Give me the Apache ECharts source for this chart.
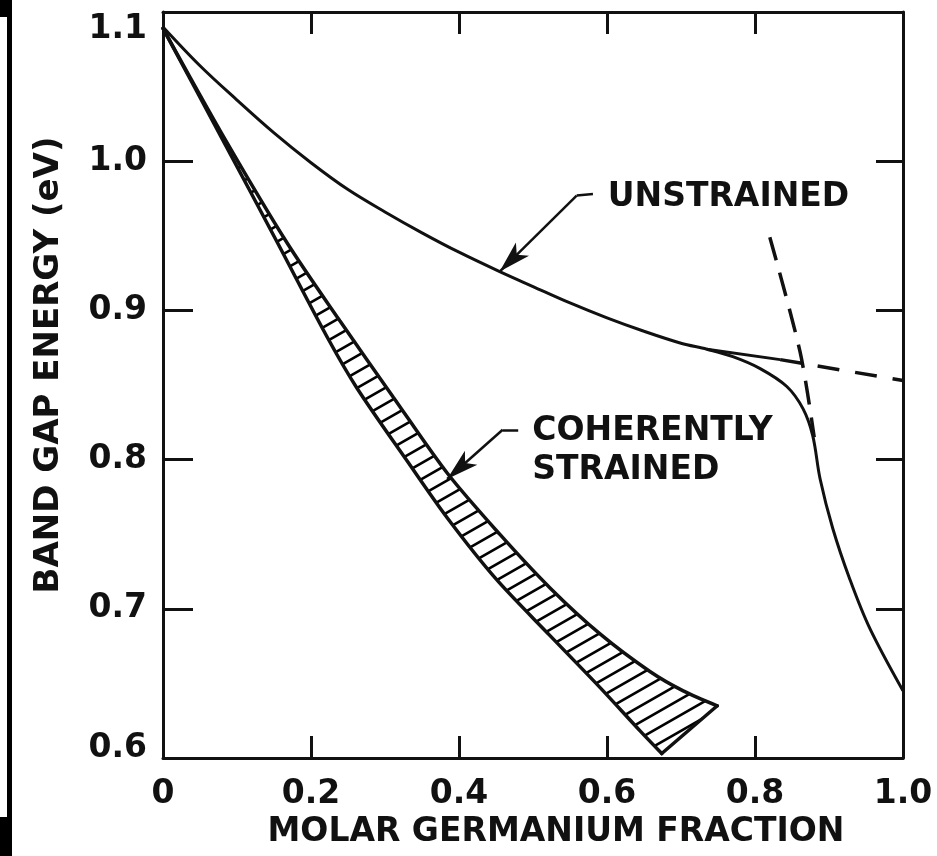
<!DOCTYPE html>
<html lang="en">

<head>
    <meta charset="UTF-8">
    <title>Band gap vs Ge fraction</title>
</head>
<style>
    html, body {
        margin: 0;
        background: #fff;
    }

    #main {
        width: 937px;
        height: 856px;
    }
</style>

<body>
    <div id="main"></div>
    <script src="https://cdn.jsdelivr.net/npm/echarts@6.0.0/dist/echarts.min.js"></script>

    <script>
        const FONT = '"DejaVu Sans", sans-serif'

        // unstrained Si(1-x)Ge(x): Si-like branch, then Ge-like branch
        const unstrained = [[0, 1.090], [0.05, 1.064], [0.1, 1.041], [0.15, 1.019], [0.2, 0.999], [0.25, 0.981],
        [0.3, 0.966], [0.35, 0.952], [0.4, 0.939], [0.455, 0.926], [0.5, 0.916], [0.55, 0.905], [0.6, 0.895],
        [0.65, 0.886], [0.7, 0.878], [0.735, 0.874], [0.770, 0.869], [0.807, 0.861], [0.843, 0.849],
        [0.865, 0.834], [0.878, 0.816], [0.888, 0.787], [0.905, 0.754], [0.928, 0.720], [0.955, 0.687], [1.0, 0.645]]
        const siTail = [[0.735, 0.874], [0.834, 0.867]]
        const siDashed = [[0.834, 0.867], [1.0, 0.853]]
        const geDashed = [[0.820, 0.949], [0.861, 0.872], [0.880, 0.815]]

        // coherently strained band: upper edge and lower edge (the cap joins their last points)
        const bandUpper = [[0, 1.089], [0.08, 1.018], [0.168, 0.945], [0.239, 0.893], [0.311, 0.842], [0.384, 0.791],
        [0.455, 0.750], [0.523, 0.714], [0.591, 0.683], [0.658, 0.658], [0.703, 0.645], [0.749, 0.635]]
        const bandLower = [[0, 1.089], [0.08, 1.015], [0.154, 0.946], [0.222, 0.882], [0.262, 0.848], [0.330, 0.799],
        [0.384, 0.761], [0.450, 0.720], [0.523, 0.682], [0.591, 0.647], [0.645, 0.618], [0.674, 0.603]]
        const bandCap = [bandLower[bandLower.length - 1], bandUpper[bandUpper.length - 1]]

        // arrows: [end, elbow, tip]
        const arrowUnstrained = [[0.581, 0.978], [0.559, 0.977], [0.455, 0.926]]
        const arrowStrained = [[0.480, 0.820], [0.459, 0.820], [0.384, 0.787]]

        const notes = [[0.601, 0.976, 'UNSTRAINED'], [0.499, 0.806, 'COHERENTLY\nSTRAINED']]

        const xTickLabels = ['0', '0.2', '0.4', '0.6', '0.8', '1.0']
        const yTickLabels = ['0.6', '0.7', '0.8', '0.9', '1.0', '1.1']

        // hatch pattern for the strained band
        function hatch() {
            const w = 28, h = 16
            const c = document.createElement('canvas')
            c.width = w
            c.height = h
            const ctx = c.getContext('2d')
            ctx.strokeStyle = '#000'
            ctx.lineWidth = 2.6
            for (let k = 0; k <= 2; k++) {
                ctx.beginPath()
                ctx.moveTo(-w, h * (k + 1))
                ctx.lineTo(2 * w, h * (k - 2))
                ctx.stroke()
            }
            return c
        }
        const hatchFill = { image: hatch(), repeat: 'repeat' }

        function arrowLines(pts) {
            return [
                [{ coord: pts[0], symbol: 'none' }, { coord: pts[1], symbol: 'none' }],
                [{ coord: pts[1], symbol: 'none' }, { coord: pts[2], symbol: 'arrow', symbolSize: [14, 32] }]
            ]
        }

        const black = '#111'
        const labelFont = { color: black, fontFamily: FONT, fontWeight: 'bold', fontSize: 33 }
        const frame = { onZero: false, lineStyle: { color: black, width: 3 } }
        const edge = (name, data) => ({
            name, type: 'line', data, smooth: 0.3, symbol: 'none',
            lineStyle: { color: black, width: 3.5, cap: 'round' }
        })

        let chart = echarts.init(document.getElementById('main'))
        let option = {
            backgroundColor: '#fff',
            animation: false,
            grid: { left: 163, right: 34, top: 12, bottom: 98 },
            graphic: [
                { type: 'rect', left: 0, top: 0, shape: { width: 12, height: 17 }, style: { fill: '#000' } },
                { type: 'rect', left: 7, top: 0, shape: { width: 5, height: 856 }, style: { fill: '#000' } },
                { type: 'rect', left: 0, top: 817, shape: { width: 12, height: 39 }, style: { fill: '#000' } }
            ],
            xAxis: [{
                type: 'value', min: 0, max: 1, interval: 0.2, z: 5,
                name: 'MOLAR GERMANIUM FRACTION', nameLocation: 'middle', nameGap: 30,
                nameTextStyle: Object.assign({}, labelFont, { padding: [0, 0, 0, 46] }),
                axisLine: frame,
                axisTick: { inside: true, length: 22, lineStyle: { color: black, width: 3 } },
                axisLabel: Object.assign({ margin: 20, formatter: v => xTickLabels[Math.round(v / 0.2)] }, labelFont),
                splitLine: { show: false }
            }, {
                type: 'value', position: 'top', min: 0, max: 1, interval: 0.2, z: 5,
                axisLine: frame,
                axisTick: { inside: true, length: 22, lineStyle: { color: black, width: 3 } },
                axisLabel: { show: false },
                splitLine: { show: false }
            }],
            yAxis: [{
                type: 'value', min: 0.6, max: 1.1, interval: 0.1, z: 5,
                name: 'BAND GAP ENERGY (eV)', nameLocation: 'middle', nameGap: 97,
                nameTextStyle: Object.assign({}, labelFont, { fontSize: 34, padding: [0, 0, 0, 40] }),
                axisLine: frame,
                axisTick: { inside: true, length: 30, lineStyle: { color: black, width: 3 } },
                axisLabel: Object.assign({
                    margin: 16,
                    formatter: v => {
                        const i = Math.round((v - 0.6) / 0.1)
                        const s = yTickLabels[i]
                        if (i === 5) return '{lo|' + s + '}'
                        if (i === 0) return '{hi|' + s + '}'
                        return s
                    },
                    rich: {
                        lo: Object.assign({ padding: [34, 0, 0, 0] }, labelFont),
                        hi: Object.assign({ padding: [0, 0, 20, 0] }, labelFont)
                    }
                }, labelFont),
                splitLine: { show: false }
            }, {
                type: 'value', position: 'right', min: 0.6, max: 1.1, interval: 0.1, z: 5,
                axisLine: frame,
                axisTick: { inside: true, length: 27, lineStyle: { color: black, width: 3 } },
                axisLabel: { show: false },
                splitLine: { show: false }
            }],
            series: [
                {
                    name: 'coherently strained', type: 'custom', clip: true, data: [0],
                    renderItem: (params, api) => {
                        const pts = bandUpper.map(p => api.coord(p))
                            .concat(bandLower.slice().reverse().map(p => api.coord(p)))
                        return {
                            type: 'polygon',
                            shape: { points: pts },
                            style: { fill: hatchFill, stroke: null }
                        }
                    }
                },
                edge('band upper', bandUpper),
                edge('band lower', bandLower),
                edge('band cap', bandCap),
                {
                    name: 'unstrained', type: 'line', data: unstrained, smooth: 0.35,
                    symbol: 'none',
                    lineStyle: { color: black, width: 3 },
                    markLine: {
                        silent: true, animation: false, label: { show: false },
                        lineStyle: { color: black, width: 2.5, type: 'solid' },
                        itemStyle: { color: black },
                        data: arrowLines(arrowUnstrained).concat(arrowLines(arrowStrained))
                    }
                },
                {
                    name: 'si tail', type: 'line', data: siTail, symbol: 'none',
                    lineStyle: { color: black, width: 3 }
                },
                {
                    name: 'si extrapolated', type: 'line', data: siDashed, symbol: 'none',
                    lineStyle: { color: black, width: 3.5, type: [22, 16] }
                },
                {
                    name: 'ge extrapolated', type: 'line', data: geDashed, smooth: 0.3, symbol: 'none',
                    lineStyle: { color: black, width: 3.5, type: [24, 13] }
                },
                {
                    name: 'notes', type: 'scatter', symbolSize: 0, silent: true,
                    itemStyle: { opacity: 1 },
                    data: notes,
                    label: Object.assign({
                        show: true, opacity: 1, position: [0, 0], align: 'left', verticalAlign: 'middle',
                        lineHeight: 39, formatter: p => p.value[2]
                    }, labelFont)
                }
            ]
        }
        chart.setOption(option)
    </script>
</body>

</html>
